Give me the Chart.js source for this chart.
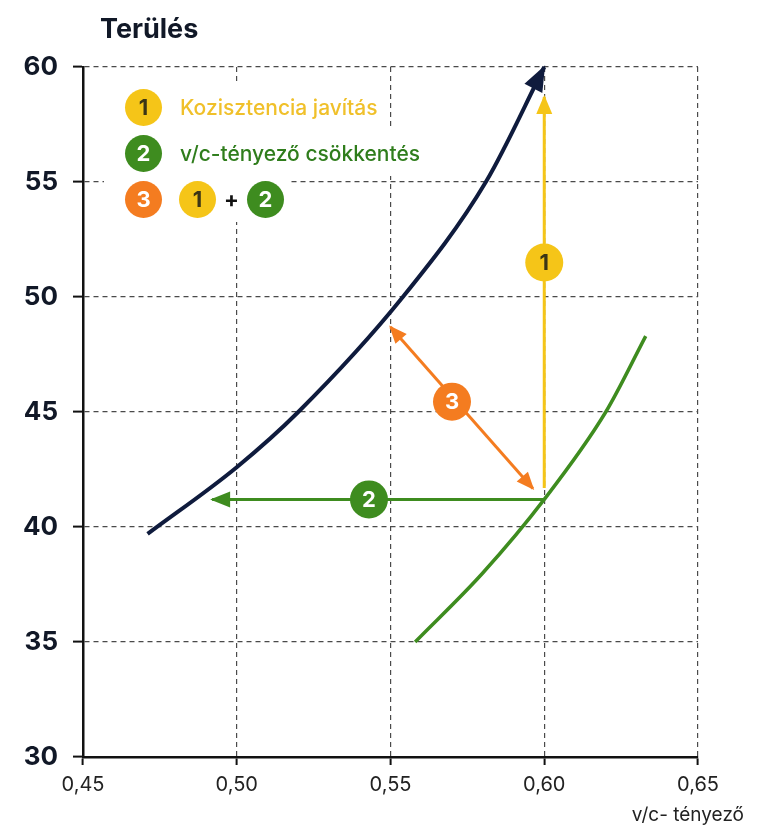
<!DOCTYPE html>
<html lang="hu">
<head>
<meta charset="utf-8">
<title>Terülés</title>
<script src="https://cdn.jsdelivr.net/npm/chart.js@4.4.1/dist/chart.umd.min.js"></script>
<style>
  html, body { margin: 0; padding: 0; background: #fff; }
  #wrap { position: relative; width: 768px; height: 832px; font-family: Inter, "Noto Sans", sans-serif; }
  #title { position: absolute; left: 100px; top: 12px; font-size: 27px; font-weight: 700; color: #111827; }
  #xtitle { position: absolute; right: 24px; top: 803px; font-size: 19px; color: #222; }
  #legend { position: absolute; left: 104px; top: 84px; }
  .row { display: flex; align-items: center; height: 46px; background: #fff; padding: 0 6px 0 21px; width: max-content; }
  .dot { width: 37px; height: 37px; border-radius: 50%; display: inline-flex; align-items: center; justify-content: center;
         font-size: 22px; font-weight: 700; color: #fff; flex: none; }
  .lbl { margin-left: 18px; font-size: 21px; font-weight: 500; }
  .plus { margin: 0 8px; font-size: 22px; font-weight: 700; color: #111; }
</style>
</head>
<body>
<div id="wrap">
  <canvas id="chart"></canvas>
  <div id="title">Terülés</div>
  <div id="xtitle">v/c- tényező</div>
  <div id="legend"></div>
</div>
<script>
// tengelyek
const xTicks = [0.45, 0.50, 0.55, 0.60, 0.65];
const yTicks = [30, 35, 40, 45, 50, 55, 60];

// görbék
const navyX = [0.471, 0.500, 0.520, 0.554, 0.581, 0.600];
const navyY = [39.7, 42.6, 45.0, 50.0, 55.0, 60.0];
const greenX = [0.558, 0.580, 0.600, 0.620, 0.633];
const greenY = [35.0, 38.0, 41.2, 45.0, 48.3];

// nyilak
const arrow1X = [0.600, 0.600];
const arrow1Y = [41.7, 58.7];
const arrow2X = [0.600, 0.492];
const arrow2Y = [41.2, 41.2];
const arrow3X = [0.5963, 0.550];
const arrow3Y = [41.67, 48.7];

// számozott körök
const badgeX = [0.600, 0.543, 0.570];
const badgeY = [51.5, 41.2, 45.45];
const badgeLabels = ['1', '2', '3'];

// jelmagyarázat
const legendLabels = ['Kozisztencia javítás', 'v/c-tényező csökkentés'];

const NAVY = '#0f1b3d';
const YELLOW = '#f5c518';
const GREEN = '#3e8c1f';
const ORANGE = '#f47c20';
const badgeColors = [YELLOW, GREEN, ORANGE];
const badgeText = ['#3b3516', '#fff', '#fff'];

const pts = (xs, ys) => xs.map((x, i) => ({ x: x, y: ys[i] }));

// legend (HTML)
const legend = document.getElementById('legend');
function dot(n, color, txt) {
    return '<span class="dot" style="background:' + color + ';color:' + txt + '">' + n + '</span>';
}
legend.innerHTML =
    '<div class="row">' + dot('1', YELLOW, '#3b3516') + '<span class="lbl" style="color:#f0c02a">' + legendLabels[0] + '</span></div>' +
    '<div class="row">' + dot('2', GREEN, '#fff') + '<span class="lbl" style="color:#2f7d1c">' + legendLabels[1] + '</span></div>' +
    '<div class="row">' + dot('3', ORANGE, '#fff') + '<span style="width:17px"></span>' + dot('1', YELLOW, '#3b3516') +
    '<span class="plus">+</span>' + dot('2', GREEN, '#fff') + '</div>';

function head(ctx, tx, ty, fx, fy, len, w, color) {
    const a = Math.atan2(ty - fy, tx - fx);
    ctx.save();
    ctx.translate(tx, ty);
    ctx.rotate(a);
    ctx.beginPath();
    ctx.moveTo(2, 0);
    ctx.lineTo(-len, w / 2);
    ctx.lineTo(-len, -w / 2);
    ctx.closePath();
    ctx.fillStyle = color;
    ctx.fill();
    ctx.restore();
}

const arrowPlugin = {
    id: 'arrows',
    afterDatasetsDraw(chart) {
        const ctx = chart.ctx;
        chart.data.datasets.forEach((ds, i) => {
            const meta = chart.getDatasetMeta(i);
            const p = meta.data;
            if (ds.head) {
                const n = p.length;
                const last = p[n - 1];
                let fx = p[n - 2].x, fy = p[n - 2].y;
                if (ds.tension && last.cp1x !== undefined) { fx = last.cp1x; fy = last.cp1y; }
                if (ds.head.end) head(ctx, last.x, last.y, fx, fy, ds.head.len, ds.head.w, ds.borderColor);
                if (ds.head.start) head(ctx, p[0].x, p[0].y, p[1].x, p[1].y, ds.head.len, ds.head.w, ds.borderColor);
            }
            if (ds.badges) {
                ctx.save();
                ctx.font = '700 22px Inter, sans-serif';
                ctx.textAlign = 'center';
                ctx.textBaseline = 'middle';
                p.forEach((el, j) => {
                    ctx.fillStyle = badgeText[j];
                    ctx.fillText(badgeLabels[j], el.x, el.y + 1);
                });
                ctx.restore();
            }
        });
    }
};

const gridOpts = { color: '#4a4a4a', lineWidth: 1.2, tickColor: '#111', tickWidth: 2 };

new Chart(document.getElementById('chart'), {
    type: 'scatter',
    data: {
        datasets: [
            { data: pts(badgeX, badgeY), pointRadius: 19, pointHoverRadius: 19, backgroundColor: badgeColors,
              borderWidth: 0, badges: true, order: 0 },
            { data: pts(navyX, navyY), showLine: true, borderColor: NAVY, borderWidth: 4, pointRadius: 0,
              cubicInterpolationMode: 'monotone', tension: 0.4, clip: false, order: 2,
              head: { end: true, len: 24, w: 20 } },
            { data: pts(greenX, greenY), showLine: true, borderColor: GREEN, borderWidth: 3.5, pointRadius: 0,
              cubicInterpolationMode: 'monotone', tension: 0.4, clip: false, order: 3 },
            { data: pts(arrow1X, arrow1Y), showLine: true, borderColor: YELLOW, borderWidth: 3, pointRadius: 0,
              order: 4, head: { end: true, len: 17, w: 16 } },
            { data: pts(arrow2X, arrow2Y), showLine: true, borderColor: GREEN, borderWidth: 3, pointRadius: 0,
              order: 4, head: { end: true, len: 18, w: 16 } },
            { data: pts(arrow3X, arrow3Y), showLine: true, borderColor: ORANGE, borderWidth: 3, pointRadius: 0,
              order: 4, head: { start: true, end: true, len: 16, w: 15 } }
        ]
    },
    options: {
        responsive: true,
        maintainAspectRatio: false,
        animation: false,
        layout: { padding: { top: 67, right: 70, left: 0, bottom: 0 } },
        plugins: { legend: { display: false }, tooltip: { enabled: false } },
        scales: {
            x: {
                type: 'linear', min: 0.45, max: 0.65,
                afterBuildTicks: s => { s.ticks = xTicks.map(v => ({ value: v })); },
                afterFit: s => { s.height = 75; },
                ticks: { callback: v => v.toFixed(2).replace('.', ','), color: '#222',
                         font: { family: 'Inter', size: 20 }, padding: 8, maxRotation: 0 },
                grid: Object.assign({ tickLength: 8 }, gridOpts),
                border: { display: true, color: '#111', width: 2.5, dash: [5, 4] }
            },
            y: {
                type: 'linear', min: 30, max: 60,
                afterBuildTicks: s => { s.ticks = yTicks.map(v => ({ value: v })); },
                afterFit: s => { s.width = 83; },
                ticks: { color: '#111827', font: { family: 'Inter', size: 26, weight: '700' }, padding: 15 },
                grid: Object.assign({ tickLength: 10 }, gridOpts),
                border: { display: true, color: '#111', width: 2.5, dash: [5, 4] }
            }
        }
    },
    plugins: [arrowPlugin]
});
</script>
</body>
</html>
